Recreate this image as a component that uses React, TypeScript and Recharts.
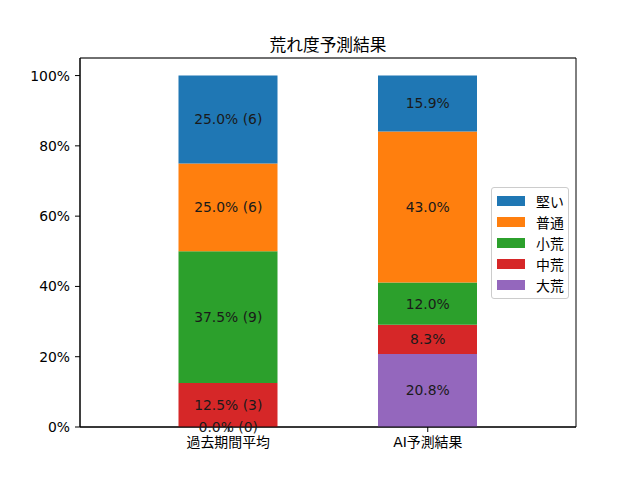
import React from 'react';
import { BarChart, Bar, XAxis, YAxis, CartesianGrid, Legend, ReferenceDot } from 'recharts';

const categories = ['過去期間平均', 'AI予測結果'];
const seriesNames = ['大荒', '中荒', '小荒', '普通', '堅い'];
const seriesColors = ['#9467bd', '#d62728', '#2ca02c', '#ff7f0e', '#1f77b4'];
const daiareValues = [0.0, 20.8];
const chuareValues = [12.5, 8.3];
const shoareValues = [37.5, 12.0];
const futsuValues = [25.0, 43.0];
const kataiValues = [25.0, 15.9];
const pastCounts = [0, 3, 9, 6, 6];
const yTicks = [0, 20, 40, 60, 80, 100];

const seriesValues = [daiareValues, chuareValues, shoareValues, futsuValues, kataiValues];

const data = categories.map((cat, ci) => {
  const row: any = { name: cat };
  seriesNames.forEach((s, si) => {
    row[`v${si}`] = seriesValues[si][ci];
  });
  return row;
});

// label anchors: middle of each stacked segment (in data units)
const labelItems: { cat: string; y: number; text: string; key: string }[] = [];
categories.forEach((cat, ci) => {
  let cum = 0;
  seriesNames.forEach((s, si) => {
    const v = seriesValues[si][ci];
    const text = ci === 0 ? `${v.toFixed(1)}% (${pastCounts[si]})` : `${v.toFixed(1)}%`;
    labelItems.push({ cat, y: cum + v / 2, text, key: `${ci}-${si}` });
    cum += v;
  });
});

const FONT = '"DejaVu Sans", "Noto Sans CJK JP", sans-serif';
const CJK = '"Noto Sans CJK JP", "DejaVu Sans", sans-serif';

const LegendBox = () => {
  const items = seriesNames.map((n, i) => ({ n, c: seriesColors[i] })).reverse();
  return (
    <div
      style={{
        background: 'rgba(255,255,255,0.8)',
        border: '1px solid #cccccc',
        borderRadius: 3,
        padding: '3px 4px 3px 5px',
        fontFamily: CJK,
        fontSize: 13.9,
        color: '#000',
      }}
    >
      {items.map((it) => (
        <div key={it.n} style={{ display: 'flex', alignItems: 'center', height: 20.8 }}>
          <div style={{ width: 28, height: 10, background: it.c, marginRight: 11 }} />
          <span style={{ lineHeight: '20px', whiteSpace: 'nowrap' }}>{it.n}</span>
        </div>
      ))}
    </div>
  );
};

export default function App() {
  return (
    <div style={{ position: 'absolute', left: 0, top: 0, width: 640, height: 480, background: '#fff' }}>
      <div
        style={{
          position: 'absolute',
          left: 80,
          width: 496,
          top: 33,
          textAlign: 'center',
          fontFamily: CJK,
          fontSize: 16.7,
          lineHeight: '22px',
          color: '#000',
        }}
      >
        荒れ度予測結果
      </div>
      <BarChart width={640} height={480} data={data} margin={{ top: 58, right: 64, bottom: 0, left: 0 }} barSize={99}>
        <CartesianGrid vertical={false} stroke="#b0b0b0" strokeWidth={0.8} />
        <XAxis
          dataKey="name"
          xAxisId="bottom"
          padding={{ left: 48.5, right: 48.5 }}
          stroke="#000"
          axisLine={{ stroke: '#000', strokeWidth: 1 }}
          tickLine={{ stroke: '#000' }}
          tickSize={5}
          tickMargin={5}
          tick={{ fill: '#000', fontSize: 13.9, fontFamily: FONT }}
          height={53}
          interval={0}
        />
        <YAxis
          yAxisId="left"
          domain={[0, 105]}
          ticks={yTicks}
          tickFormatter={(v: number) => `${v}%`}
          stroke="#000"
          axisLine={{ stroke: '#000', strokeWidth: 1 }}
          tickLine={{ stroke: '#000' }}
          tickSize={5}
          tickMargin={5}
          tick={{ fill: '#000', fontSize: 13.9, fontFamily: FONT }}
          width={80}
          allowDataOverflow
        />
        {seriesNames.map((s, si) => (
          <Bar
            key={s}
            dataKey={`v${si}`}
            name={s}
            stackId="a"
            xAxisId="bottom"
            yAxisId="left"
            fill={seriesColors[si]}
            isAnimationActive={false}
          />
        ))}
        <CartesianGrid
          xAxisId="bottom"
          yAxisId="left"
          stroke="#000"
          strokeWidth={1}
          fill="none"
          horizontalCoordinatesGenerator={(p: any) => [p.offset.top, p.offset.top + p.offset.height]}
          verticalCoordinatesGenerator={(p: any) => [p.offset.left, p.offset.left + p.offset.width]}
        />
        {labelItems.map((it) => (
          <ReferenceDot
            key={it.key}
            xAxisId="bottom"
            yAxisId="left"
            x={it.cat}
            y={it.y}
            r={1}
            fill="none"
            stroke="none"
            ifOverflow="visible"
            label={{ value: it.text, position: 'center', fill: '#1a1a1a', fontSize: 13.9, fontFamily: FONT }}
          />
        ))}
        <Legend
          layout="vertical"
          align="center"
          verticalAlign="middle"
          content={<LegendBox />}
          wrapperStyle={{ position: 'absolute', left: 491, top: 187, width: 'auto', height: 'auto' }}
        />
      </BarChart>
    </div>
  );
}
